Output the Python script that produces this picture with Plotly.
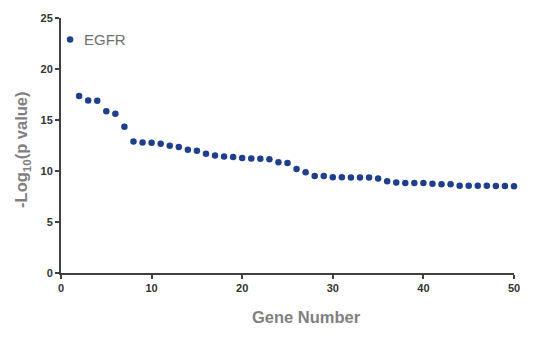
import plotly.graph_objects as go

gene_number = list(range(1, 51))
neg_log10_p = [
    22.9, 17.35, 16.9, 16.88, 15.87, 15.62, 14.33, 12.88, 12.79, 12.76,
    12.66, 12.48, 12.35, 12.08, 11.98, 11.7, 11.52, 11.42, 11.38, 11.27,
    11.23, 11.2, 11.15, 10.86, 10.78, 10.2, 9.87, 9.52, 9.52, 9.39,
    9.39, 9.36, 9.36, 9.36, 9.27, 9.0, 8.88, 8.82, 8.82, 8.82,
    8.75, 8.69, 8.69, 8.56, 8.56, 8.56, 8.56, 8.53, 8.53, 8.5,
]
label_text = "EGFR"
x_title = "Gene Number"
y_title = "-Log<sub>10</sub>(p value)"
x_ticks = [0, 10, 20, 30, 40, 50]
y_ticks = [0, 5, 10, 15, 20, 25]

fig = go.Figure()
fig.add_trace(go.Scatter(
    x=gene_number, y=neg_log10_p, mode="markers",
    marker=dict(color="#1f3f8c", size=6.5, line=dict(width=0)),
    cliponaxis=False, showlegend=False,
))

fig.add_annotation(
    x=gene_number[0], y=neg_log10_p[0], text=label_text,
    xanchor="left", yanchor="middle", xshift=12, showarrow=False,
    font=dict(family="Liberation Sans, Arial", size=15, color="#6e6e6e"),
)

tickfont = dict(family="Liberation Sans, Arial", size=11, color="#333333", weight="bold")
titlefont = dict(family="Liberation Sans, Arial", size=16.5, color="#808080", weight="bold")

fig.add_annotation(
    xref="paper", yref="paper", x=0.543, y=-0.174, text="<b>" + x_title + "</b>",
    xanchor="center", yanchor="middle", showarrow=False, font=titlefont,
)
fig.add_annotation(
    xref="paper", yref="paper", x=-0.086, y=0.483, text="<b>" + y_title + "</b>",
    xanchor="center", yanchor="middle", showarrow=False, font=titlefont, textangle=-90,
)

fig.update_layout(
    width=543, height=347,
    margin=dict(l=61, r=29, t=14, b=74),
    plot_bgcolor="white", paper_bgcolor="white",
    xaxis=dict(
        range=[0, 50], tickvals=x_ticks, showgrid=False, zeroline=False,
        showline=True, linecolor="#404040", linewidth=2,
        ticks="outside", ticklen=4, tickwidth=1.5, tickcolor="#404040",
        tickfont=tickfont,
    ),
    yaxis=dict(
        range=[0, 25], tickvals=y_ticks, showgrid=False, zeroline=False,
        showline=True, linecolor="#404040", linewidth=2,
        ticks="outside", ticklen=4, tickwidth=1.5, tickcolor="#404040",
        tickfont=tickfont,
    ),
)

fig.write_html("out.html")
